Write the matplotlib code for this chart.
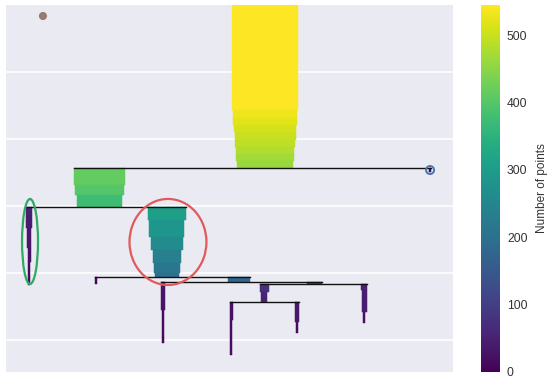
import matplotlib
matplotlib.use('Agg')
import matplotlib.pyplot as plt
from matplotlib.patches import Ellipse
from matplotlib.colors import Normalize
from matplotlib.cm import ScalarMappable

plt.rcParams['font.family'] = ['Liberation Sans', 'DejaVu Sans']

# ---- condensed-tree data ----
# parent index, centre position (point units), lambda boundaries, points per segment
cluster_parent = [-1, 0, 0, 1, 1, 4, 4, 6, 6, 8, 8, 9, 9]
cluster_x = [2124, 767, 3477, 189, 1320, 738, 1911, 1287, 2530, 2116, 2936, 1845, 2386]
cluster_lambda = [
    [0.0, 1.57, 1.69, 1.79, 1.90, 2.01, 2.12, 2.22, 2.33, 2.43],
    [2.43, 2.69, 2.84, 3.01],
    [2.43, 2.50],
    [3.01, 3.13, 3.33, 3.63, 3.84, 4.18],
    [3.01, 3.21, 3.46, 3.66, 3.85, 4.00, 4.06],
    [4.06, 4.16],
    [4.06, 4.13],
    [4.13, 4.55, 4.96, 5.04],
    [4.13, 4.16],
    [4.16, 4.28, 4.43],
    [4.16, 4.25, 4.58, 4.75],
    [4.43, 4.70, 5.22],
    [4.43, 4.73, 4.90],
]
cluster_points = [
    [545, 532, 520, 510, 500, 490, 480, 470, 460],
    [415, 400, 375],
    [10],
    [50, 42, 34, 24, 16],
    [306, 287, 260, 235, 213, 197],
    [12],
    [180],
    [28, 15, 9],
    [123],
    [74, 55],
    [49, 41, 22],
    [25, 18],
    [33, 15],
]

# selected-cluster annotations
sel_x = [197, 1328, 3477]
sel_lambda = [3.53, 3.537, 2.463]
sel_w = [131, 631, 66]
sel_h = [1.27, 1.284, 0.12]
sel_colors = ['#2eaa62', '#e05a5a', '#4c72b0']
sel_lw = [1.6, 1.6, 1.4]
dot_x, dot_lambda = [303], [0.164]

vmax = 545
colorbar_ticks = [0, 100, 200, 300, 400, 500]

# ---- figure ----
fig = plt.figure(figsize=(5.5, 3.81), dpi=100)
ax = fig.add_axes([6/550, 1-372/381, 447/550, 367/381])
ax.set_facecolor('#EAEAF2')
cmap = plt.get_cmap('viridis')
norm = Normalize(0, vmax)

for x, lam, pts in zip(cluster_x, cluster_lambda, cluster_points):
    for i, n in enumerate(pts):
        col = cmap(norm(n))
        ax.bar(x, lam[i+1]-lam[i], width=n, bottom=lam[i], color=col,
               edgecolor=col, linewidth=0.35, align='center', zorder=2)

# horizontal split lines
for p in range(len(cluster_x)):
    kids = [c for c, par in enumerate(cluster_parent) if par == p]
    if not kids:
        continue
    x0 = min(cluster_x[c] - cluster_points[c][0]/2 for c in kids)
    x1 = max(cluster_x[c] + cluster_points[c][0]/2 for c in kids)
    lam = cluster_lambda[p][-1]
    ax.plot([x0, x1], [lam, lam], color='#111111', lw=1.0, zorder=3)

for x, y, w, h, c, lw in zip(sel_x, sel_lambda, sel_w, sel_h, sel_colors, sel_lw):
    ax.add_patch(Ellipse((x, y), w, h, fill=False, edgecolor=c, lw=lw, zorder=4))
ax.scatter(dot_x, dot_lambda, s=34, color='#9a7a70', edgecolor='none', zorder=4)

ax.set_xlim(0, 3665)
ax.set_ylim(5.478, 0)
ax.set_xticks([])
ax.set_yticks([1, 2, 3, 4, 5])
ax.tick_params(labelleft=False, length=0)
ax.grid(axis='y', color='white', lw=1.1, zorder=0)
ax.set_axisbelow(True)
for s in ax.spines.values():
    s.set_visible(False)

cax = fig.add_axes([480.5/550, 1-372/381, 19.5/550, 367/381])
sm = ScalarMappable(norm=norm, cmap=cmap)
cb = fig.colorbar(sm, cax=cax, ticks=colorbar_ticks)
cb.outline.set_visible(False)
cax.tick_params(length=0, pad=5, labelsize=8.7, labelcolor='#333333')
cb.set_label('Number of points', fontsize=8.5, color='#333333', labelpad=6)

fig.savefig('out.png', dpi=100)
